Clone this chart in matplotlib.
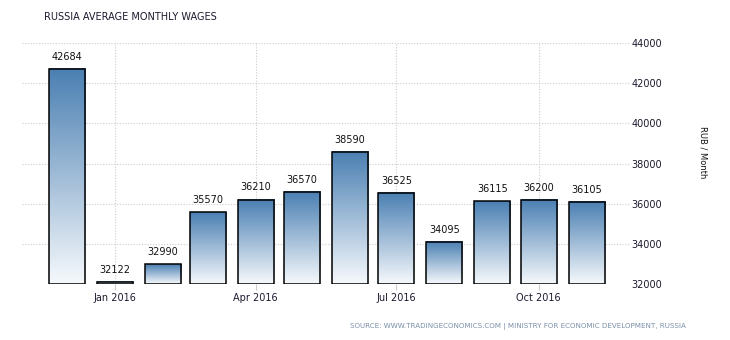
import datetime as dt
import numpy as np
import matplotlib
matplotlib.use("Agg")
import matplotlib.pyplot as plt
import matplotlib.dates as mdates
from matplotlib.colors import LinearSegmentedColormap
from matplotlib.patches import Rectangle

# ---- data ----
months = ["2015-12", "2016-01", "2016-02", "2016-03", "2016-04", "2016-05",
          "2016-06", "2016-07", "2016-08", "2016-09", "2016-10", "2016-11"]
wages = [42684, 32122, 32990, 35570, 36210, 36570,
         38590, 36525, 34095, 36115, 36200, 36105]
tick_months = ["2016-01", "2016-04", "2016-07", "2016-10"]
tick_labels = ["Jan 2016", "Apr 2016", "Jul 2016", "Oct 2016"]
y_ticks = [32000, 34000, 36000, 38000, 40000, 42000, 44000]

def to_num(s):
    y, m = s.split("-")
    return mdates.date2num(dt.date(int(y), int(m), 1))

plt.rcParams['font.family'] = ['DejaVu Sans']

fig = plt.figure(figsize=(7.3, 3.4), dpi=100)
ax = fig.add_axes([22/730, 55.7/340, (630-22)/730, (284.3-42.7)/340])

ymin, ymax = 32000, 44000
xleft = mdates.date2num(dt.date(2015, 11, 2))
xright = mdates.date2num(dt.date(2016, 11, 29))

cmap = LinearSegmentedColormap.from_list("g", ["#f6f9fc", "#4a7fb2"])
grad = np.linspace(0, 1, 256).reshape(-1, 1)
width = 23.4
for m, v in zip(months, wages):
    xc = to_num(m)
    x0, x1 = xc - width/2, xc + width/2
    ax.imshow(grad, cmap=cmap, origin="lower", aspect="auto",
              extent=[x0, x1, ymin, v], zorder=2, interpolation="bilinear")
    ax.add_patch(Rectangle((x0, ymin), width, v - ymin, fill=False,
                           edgecolor="black", linewidth=1.1, zorder=3))
    ax.text(xc, v + 350, str(v), ha="center", va="bottom", fontsize=7,
            color="#111111", zorder=4)

ax.set_xlim(xleft, xright)
ax.set_ylim(ymin, ymax)

for s in ax.spines.values():
    s.set_visible(False)

ax.set_xticks([to_num(m) for m in tick_months])
ax.set_xticklabels(tick_labels, fontsize=7, color="#1a1a2e")
ax.set_yticks(y_ticks)
ax.set_yticklabels([str(t) for t in y_ticks], fontsize=7, color="#1a1a2e")
ax.yaxis.tick_right()
ax.tick_params(axis="y", length=0, pad=1)
ax.tick_params(axis="x", length=4, color="#cccccc", pad=2)
ax.grid(True, color="#cccccc", linestyle=(0, (1, 1.5)), linewidth=0.8, zorder=0)
ax.set_axisbelow(True)

fig.text(44/730, 1 - 17/340, "RUSSIA AVERAGE MONTHLY WAGES", fontsize=7,
         color="#1a1a2e", va="center", ha="left")
fig.text(703/730, 1 - 152/340, "RUB / Month", rotation=270, fontsize=6,
         color="#111111", va="center", ha="center")

# source line
y_src = 1 - 326/340
fig.text(686/730, y_src,
         "SOURCE: WWW.TRADINGECONOMICS.COM | MINISTRY FOR ECONOMIC DEVELOPMENT, RUSSIA",
         fontsize=5.1, color="#7a8fa8", va="center", ha="right")

fig.savefig("out.png", dpi=100)
